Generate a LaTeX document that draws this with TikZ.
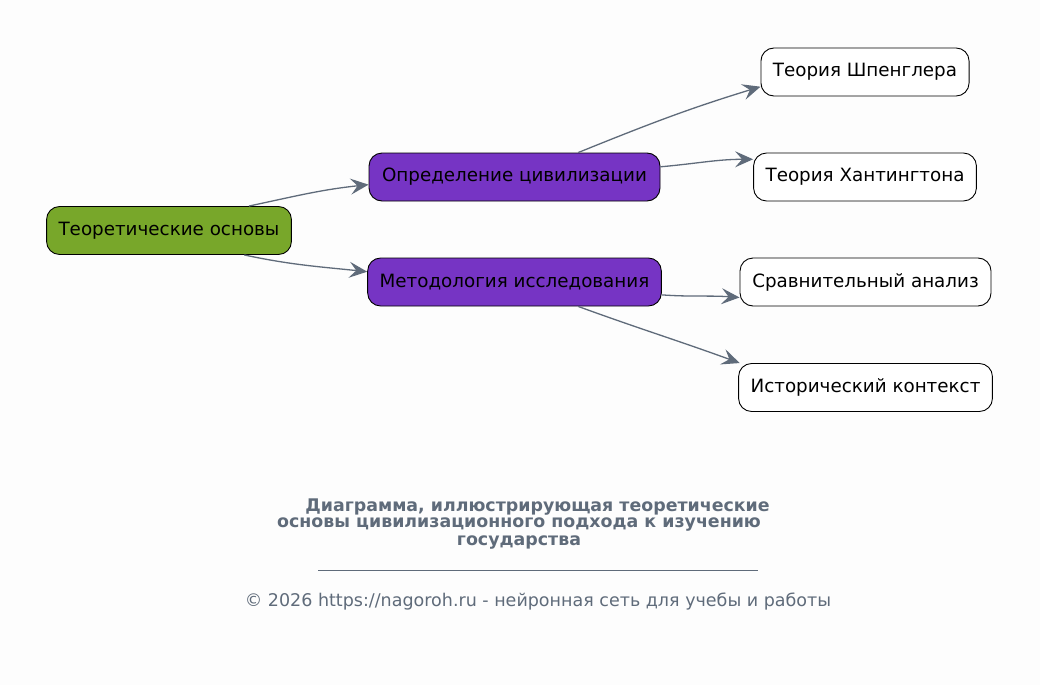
\documentclass[tikz,border=0pt]{standalone}
\usepackage{fontspec}
\setmainfont{DejaVu Sans}
\usepackage{tikz}
\usetikzlibrary{arrows.meta}
\definecolor{bgcol}{HTML}{FDFDFD}
\definecolor{greenbox}{HTML}{78A72A}
\definecolor{violetbox}{HTML}{7634C4}
\definecolor{slate}{HTML}{5F6B7A}

\begin{document}
\begin{tikzpicture}[x=1pt,y=-1pt]
        \tikzstyle{arrow}=[-{Stealth[length=18pt,width=16pt,inset=7pt]},draw=slate,line width=1.3pt];
        \tikzstyle{box}=[draw=black,line width=0.9pt,rounded corners=13pt,minimum height=48pt,inner xsep=12pt,font=\fontsize{18.3}{22}\selectfont];
        \fill[bgcol] (0,0) rectangle (1040,685);
        \node[box,fill=greenbox,minimum width=242pt] (v1) at (169,230.5) {Теоретические основы};
        \node[box,fill=violetbox,minimum width=291pt] (v2) at (514.5,177) {Определение цивилизации};
        \node[box,fill=violetbox,minimum width=293pt] (v3) at (514.5,282) {Методология исследования};
        \draw [arrow] (v1.17.6) to[out=12,in=186] (v2.183.9);
        \draw [arrow] (v1.342.4) to[out=-12,in=174] (v3.176.1);
        \node[box,fill=white,minimum width=206pt] (v4) at (865,72) {Теория Шпенглера};
        \node[box,fill=white,minimum width=222pt] (v5) at (865,177) {Теория Хантингтона};
        \draw [arrow] (v2.21) to[out=22,in=197] (v4.188.8);
        \draw [arrow] (v2.4.7) to[out=5,in=180] (v5.171.8);
        \node[box,fill=white,minimum width=251pt] (v6) at (865.5,282) {Сравнительный анализ};
        \node[box,fill=white,minimum width=253pt] (v7) at (865.5,387.5) {Исторический контекст};
        \draw [arrow] (v3.355.3) to[out=-4,in=176] (v6.187.3);
        \draw [arrow] (v3.339) to[out=-20,in=160] (v7.169.9);

        \node[text=slate,font=\fontsize{17.4}{18}\selectfont\bfseries] (t1) at (537.5,507) {Диаграмма, иллюстрирующая теоретические};
        \node[text=slate,font=\fontsize{17.4}{18}\selectfont\bfseries] (t2) at (519,524.5) {основы цивилизационного подхода к изучению};
        \node[text=slate,font=\fontsize{17.4}{18}\selectfont\bfseries] (t3) at (519,542) {государства};
        \draw[slate,line width=0.8pt] (318,570) -- (758,570);
        \node[text=slate,font=\fontsize{17.5}{20}\selectfont] (c1) at (538,601.5) {© 2026 https://nagoroh.ru - нейронная сеть для учебы и работы};
    \end{tikzpicture}
\end{document}
